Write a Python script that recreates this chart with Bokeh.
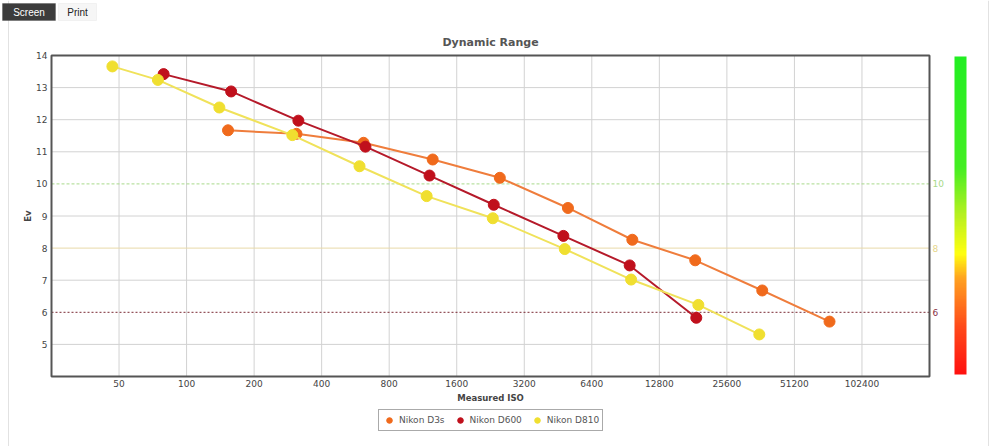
import math
from bokeh.plotting import figure
from bokeh.models import (Range1d, FixedTicker, Span, Label, Legend, LegendItem,
                          ColorBar, LinearColorMapper, BoxAnnotation, LogAxis, LinearAxis,
                          LogScale)
from bokeh.embed import file_html
from bokeh.resources import INLINE

# ---------------- data ----------------
iso_ticks = [50, 100, 200, 400, 800, 1600, 3200, 6400, 12800, 25600, 51200, 102400]
ev_ticks = [5, 6, 7, 8, 9, 10, 11, 12, 13, 14]

d3s_iso = [153, 309, 615, 1250, 2490, 5010, 9700, 18500, 36800, 73400]
d3s_ev = [11.67, 11.56, 11.28, 10.76, 10.19, 9.25, 8.26, 7.62, 6.68, 5.71]

d600_iso = [79, 158, 315, 627, 1210, 2340, 4780, 9440, 18700]
d600_ev = [13.42, 12.88, 11.97, 11.16, 10.26, 9.35, 8.38, 7.46, 5.83]

d810_iso = [46.7, 74.5, 140, 296, 590, 1175, 2317, 4850, 9580, 19100, 35700]
d810_ev = [13.66, 13.24, 12.38, 11.52, 10.55, 9.62, 8.93, 7.97, 7.02, 6.23, 5.31]

series_names = ["Nikon D3s", "Nikon D600", "Nikon D810"]
ref_levels = [10, 8, 6]

# axis extents of the plot box
x_lo, x_hi = 25, 204800
y_lo, y_hi = 4, 14

# ---------------- layout (pixels) ----------------
W, H = 1000, 446
PL, PR, PT, PB = 51, 929, 55, 376
ppd = (PR - PL) / math.log2(x_hi / x_lo)
ppu = (PB - PT) / (y_hi - y_lo)
xr = Range1d(x_lo * 2 ** (-PL / ppd), x_hi * 2 ** ((W - PR) / ppd))
yr = Range1d(y_lo - (H - PB) / ppu, y_hi + PT / ppu)

FONT = "DejaVu Sans"

p = figure(width=W, height=H, x_range=xr, y_range=yr, x_axis_type="log",
           x_axis_location=None, y_axis_location=None,
           output_backend="svg", toolbar_location=None,
           min_border=0, background_fill_color="white", border_fill_color="white")
p.x_scale = LogScale()
p.title = None
p.outline_line_color = None
p.grid.visible = False

# outer panel lines
for xl in (8, 988):
    p.add_layout(Span(location=xl, location_units="screen", dimension="height",
                      line_color="#e2e2e2", line_width=1, level="underlay"))

# grid lines
p.segment(x0=iso_ticks, x1=iso_ticks, y0=[y_lo] * len(iso_ticks), y1=[y_hi] * len(iso_ticks),
          line_color="#d2d2d2", line_width=1)
gy = [v for v in ev_ticks if v not in ref_levels and v != y_hi]
p.segment(x0=[x_lo] * len(gy), x1=[x_hi] * len(gy), y0=gy, y1=gy,
          line_color="#d2d2d2", line_width=1)

# reference levels
ref_colors = ["#a9d98a", "#e8d9a8", "#7a2a34"]
ref_label_colors = ["#a9d98a", "#e6d68a", "#8a3044"]
ref_dash = ["3 2", "solid", "2 2"]
for lv, c, lc, d in zip(ref_levels, ref_colors, ref_label_colors, ref_dash):
    p.segment(x0=[x_lo], x1=[x_hi], y0=[lv], y1=[lv], line_color=c, line_width=1, line_dash=d)
    p.add_layout(Label(x=x_hi, y=lv, text=str(lv), x_offset=3, text_baseline="middle",
                       text_font=FONT, text_font_size="9px", text_color=lc))

# axes
xaxis = LogAxis(fixed_location=y_lo, bounds=(x_lo, x_hi), ticker=FixedTicker(ticks=iso_ticks),
                axis_label="Measured ISO")
xaxis.major_label_overrides = {t: str(t) for t in iso_ticks}
yaxis = LinearAxis(fixed_location=x_lo, bounds=(y_lo, y_hi), ticker=FixedTicker(ticks=ev_ticks),
                   axis_label="Ev")
for ax in (xaxis, yaxis):
    ax.axis_line_color = None
    ax.major_tick_line_color = None
    ax.minor_tick_line_color = None
    ax.major_tick_out = 0
    ax.major_tick_in = 0
    ax.minor_tick_out = 0
    ax.major_label_text_font = FONT
    ax.major_label_text_font_size = "9px"
    ax.major_label_text_color = "#444444"
    ax.axis_label_text_font = FONT
    ax.axis_label_text_font_size = "8.5px"
    ax.axis_label_text_font_style = "bold"
    ax.axis_label_text_color = "#444444"
xaxis.major_label_standoff = 3
xaxis.axis_label_standoff = 3
yaxis.major_label_standoff = 4
yaxis.axis_label_standoff = 0
p.add_layout(xaxis, "below")
p.add_layout(yaxis, "left")

# series
colors_line = ["#ef7d3c", "#b51a2a", "#f0e25a"]
colors_mark = ["#f06a1c", "#c0101c", "#f0df30"]
data = [(d3s_iso, d3s_ev), (d600_iso, d600_ev), (d810_iso, d810_ev)]
items = []
for name, (xs, ys), cl, cm in zip(series_names, data, colors_line, colors_mark):
    p.line(xs, ys, line_color=cl, line_width=2)
    r = p.scatter(xs, ys, size=11, fill_color=cm, line_color=cm)
    items.append(LegendItem(label=name, renderers=[r]))

# plot box
p.add_layout(BoxAnnotation(left=x_lo, right=x_hi, bottom=y_lo, top=y_hi,
                           fill_alpha=0, line_color="#555555", line_width=2,
                           line_alpha=1))

# title
p.add_layout(Label(x=(PL + PR) / 2, y=H - 42, x_units="screen", y_units="screen",
                   text="Dynamic Range", text_align="center", text_baseline="middle",
                   text_font=FONT, text_font_size="11px", text_font_style="bold",
                   text_color="#555555"))

legend = Legend(items=items, orientation="horizontal", location=(378, H - 431),
                label_text_font=FONT, label_text_font_size="9px", label_text_color="#555555",
                border_line_color="#555555", border_line_width=1,
                glyph_width=14, glyph_height=14, label_standoff=3, spacing=8,
                padding=3, margin=0)
p.add_layout(legend)

# colour bar
anch_v = [4.0, 5.5, 7.0, 7.8, 9.0, 10.5, 14.0]
anch_c = [(255, 16, 16), (255, 74, 26), (255, 160, 32), (255, 255, 16), (184, 240, 32), (68, 238, 34), (34, 238, 34)]
pal = []
N = 200
for i in range(N):
    v = 4 + 10 * (i + 0.5) / N
    for k in range(len(anch_v) - 1):
        if anch_v[k] <= v <= anch_v[k + 1]:
            t = (v - anch_v[k]) / (anch_v[k + 1] - anch_v[k])
            c = [round(a + (b - a) * t) for a, b in zip(anch_c[k], anch_c[k + 1])]
            pal.append("#%02x%02x%02x" % tuple(c))
            break
cb = ColorBar(color_mapper=LinearColorMapper(palette=pal, low=4, high=14),
              ticker=FixedTicker(ticks=[]),
              width=12, height=318, padding=0, margin=0, location=(954, H - 374),
              major_label_text_font_size="9px", major_tick_line_color=None,
              minor_tick_line_color=None, bar_line_color=None, border_line_color=None,
              background_fill_alpha=0)
p.add_layout(cb)

# buttons
p.add_layout(BoxAnnotation(left=2, right=55, top=H - 3, bottom=H - 20,
                           left_units="screen", right_units="screen",
                           top_units="screen", bottom_units="screen",
                           fill_color="#3c3c3c", fill_alpha=1, line_color="#3c3c3c"))
p.add_layout(BoxAnnotation(left=58, right=96, top=H - 3, bottom=H - 20,
                           left_units="screen", right_units="screen",
                           top_units="screen", bottom_units="screen",
                           fill_color="#f6f6f6", fill_alpha=1, line_color="#dddddd"))
p.add_layout(Label(x=28.5, y=H - 11.5, x_units="screen", y_units="screen", text="Screen",
                   text_align="center", text_baseline="middle", text_font="Liberation Sans",
                   text_font_size="10px", text_color="#ffffff"))
p.add_layout(Label(x=77, y=H - 11.5, x_units="screen", y_units="screen", text="Print",
                   text_align="center", text_baseline="middle", text_font="Liberation Sans",
                   text_font_size="10px", text_color="#222222"))

open("out.html", "w").write(file_html(p, INLINE))
